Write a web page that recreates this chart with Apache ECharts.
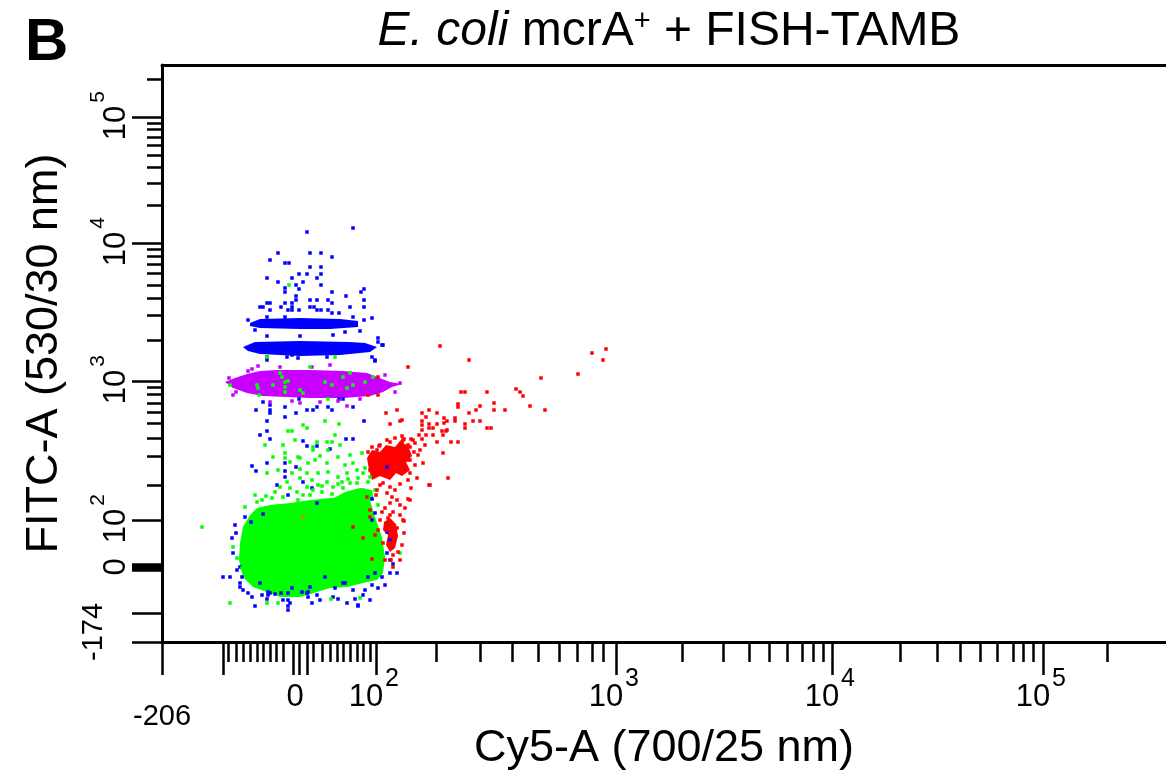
<!DOCTYPE html>
<html><head><meta charset="utf-8">
<script src="https://cdn.jsdelivr.net/npm/echarts@6/dist/echarts.min.js"></script>
<style>html,body{margin:0;padding:0;background:#fff}#c{width:1166px;height:778px}</style>
</head><body><div id="c"></div>
<script>
// All values are in display-channel units of the biexponential scales
// (x: Cy5-A channel 0..1004, y: FITC-A channel 0..577)

// ---- axis ticks & labels ----
const xTicksLong  = [0,61,131,137,145,214,454,670,881];
const xTicksShort = [66,74,81,88,95,101,108,114,121,151,160,168,175,181,188,195,201,208,274,318,350,376,397,415,430,441,520,561,587,607,625,640,651,661,738,775,798,818,835,851,861,871,945];
const xLabelPos   = [133,214,454,670,881];
const xLabelText  = ['0','10^2','10^3','10^4','10^5'];
const xMinLabelPos = [0];
const xMinLabelText = ['-206'];

const yTicksLong  = [0,29,72,74,76,78,122,261,399,525];
const yTicksShort = [157,186,204,219,230,239,248,255,302,327,344,357,369,378,386,393,437,459,475,487,497,505,513,519,563];
const yLabelPos   = [75,122,261,399,525];
const yLabelText  = ['0','10^2','10^3','10^4','10^5'];
const yMinLabelPos = [10];
const yMinLabelText = ['-174'];

// ---- dense populations (outlines) ----
const greenBlob = [[78,99],[81,115],[88,127],[95,134],[108,137],[128,139],[148,142],[168,144],[188,145],[201,149],[208,142],[213,125],[220,105],[223,85],[221,69],[215,62],[201,59],[185,55],[168,54],[155,50],[138,45],[118,45],[105,50],[91,55],[81,65],[77,82]];
const greenDense2 = [[168,142],[183,150],[198,154],[210,152],[212,142]];
const magentaBand = [[63,260],[73,264],[85,268],[98,271],[115,272],[148,272],[181,271],[205,269],[215,265],[228,260],[240,258],[230,255],[221,250],[208,246],[181,244],[148,244],[125,245],[101,246],[85,249],[71,254]];
const blueBand1 = [[81,295],[93,300],[138,301],[188,300],[203,299],[215,295],[208,290],[178,287],[138,286],[98,288],[86,291]];
const blueBand2 = [[88,319],[98,323],[138,324],[178,323],[196,321],[196,315],[168,313],[138,313],[98,314],[88,316]];
const redCore1 = [[205,184],[210,192],[218,190],[224,197],[233,195],[238,201],[246,196],[250,186],[244,180],[248,172],[240,166],[234,169],[228,162],[218,166],[210,162],[207,172]];
const redCore2 = [[222,120],[228,124],[234,118],[236,106],[233,94],[228,90],[224,97],[226,107],[221,112]];

// ---- individual events ----
const bluePts = [[145,410],[191,414],[116,389],[148,389],[159,389],[170,385],[108,382],[123,379],[127,379],[148,375],[159,375],[137,368],[145,368],[159,368],[105,364],[130,364],[155,364],[116,360],[141,360],[159,357],[123,354],[123,350],[134,357],[137,353],[202,353],[170,350],[199,350],[184,346],[134,346],[134,342],[148,342],[155,342],[166,342],[202,342],[105,339],[108,339],[123,339],[130,339],[130,335],[130,332],[170,339],[119,335],[98,335],[101,335],[148,335],[152,335],[188,335],[202,335],[108,332],[126,332],[137,332],[155,332],[159,332],[166,332],[170,329],[177,329],[123,325],[105,325],[191,325],[202,322],[210,324],[86,322],[93,312],[183,310],[198,311],[105,306],[138,306],[171,307],
[105,285],[125,285],[136,284],[165,285],[213,282],[220,297],[216,304],[216,300],[221,297],[210,285],[213,281],[105,282],[130,287],
[101,240],[108,237],[108,232],[108,229],[123,235],[94,232],[137,243],[145,232],[151,232],[155,235],[166,235],[170,232],[177,243],[181,243],[191,235],[123,225],[134,229],[105,221],[202,221],[105,211],[98,207],[108,203],[141,201],[155,196],[184,203],[191,203],[145,196],[168,193],[90,176],[94,171],[105,179],[123,179],[134,175],[123,171],[123,165],[115,157],[141,160],[126,147],[150,154],[155,139],[225,175],[210,143],
[213,129],[210,122],[225,110],[228,102],[225,89],[228,82],[231,78],[235,69],[228,69],[220,65],[213,69],[206,65],[210,57],[216,54],[223,57],[201,47],[193,43],[196,36],[185,39],[176,43],[173,54],[183,59],[163,65],[148,55],[155,47],[145,49],[140,50],[130,54],[119,49],[113,48],[108,49],[100,47],[90,45],[93,36],[105,43],[121,42],[128,39],[150,39],[78,55],[80,65],[75,72],[68,65],[61,65],[71,89],[70,104],[74,109],[73,117],[83,125],[101,128],[89,120],[78,75],[98,59],[106,50],[106,47],[126,49],[126,42],[126,36],[126,32],[146,50],[146,45],[181,59],[191,52],[196,37],[208,42],[78,59],[81,52],[86,49],[158,42],[171,45],[203,52]];

const greenPts = [[166,243],[141,217],[145,214],[163,221],[177,218],[126,211],[130,211],[173,207],[155,200],[151,195],[170,200],[166,192],[123,189],[136,185],[158,186],[176,185],[200,189],[111,185],[165,200],[151,192],[123,184],[138,184],[146,179],[165,179],[191,179],[116,172],[138,173],[145,169],[156,169],[166,170],[176,165],[185,169],[195,172],[201,169],[105,169],[118,155],[128,154],[141,147],[151,152],[160,150],[171,155],[181,154],[188,159],[195,159],[201,152],[165,160],[180,160],[130,169],[110,144],[95,140],[83,135],[40,115],[68,39],[116,39],[105,39],[238,89],[169,43],[198,44],[71,95],[75,84],[80,74],
[93,147],[100,142],[121,145],[136,142],[148,147],[156,157],[208,165],[213,152],[216,137],[203,174],[138,164],[150,162],[128,180],[153,182],[183,177],[188,187],[178,197],[121,197],[133,202],[103,197],
[176,158],[186,163],[196,164],[206,160],[160,156],[170,148],[145,155],[135,150],[125,160],[113,150],[104,146],[193,146],[184,146],
[105,285],[173,285],[127,357],
[95,257],[96,254],[111,257],[120,265],[123,260],[123,255],[123,250],[126,261],[138,252],[141,249],[163,260],[170,257],[181,265],[188,269],[185,254],[191,257],[203,260],[211,265],[68,257],[118,269],[97,247],[148,275]];

const magentaPts = [[71,247],[233,250],[238,259],[185,236],[86,271],[118,275],[67,264],[74,250],[138,239],[158,240],[198,243],[108,240],[223,267],[96,276],[168,277],[130,241],[176,241],[150,275],[90,273]];

const redPts = [[278,296],[307,282],[246,275],[430,289],[444,293],[441,282],[416,268],[379,264],[299,250],[303,250],[325,250],[354,253],[358,250],[361,246],[332,239],[296,238],[296,235],[318,236],[314,232],[307,229],[332,232],[343,232],[368,236],[383,232],[224,229],[235,232],[238,221],[228,218],[260,229],[267,232],[275,229],[264,225],[260,221],[260,217],[260,212],[267,218],[267,214],[275,218],[282,224],[282,219],[285,221],[293,224],[293,221],[303,218],[303,214],[311,221],[318,221],[325,214],[329,214],[280,211],[284,211],[257,207],[264,207],[271,207],[260,203],[275,200],[289,200],[296,200],[217,196],[228,200],[242,203],[249,203],[233,193],[236,193],[246,197],[246,190],[246,184],[240,222],[271,214],[285,212],[281,207],[240,200],[251,202],[258,192],[281,189],[215,192],[220,189],[225,179],[245,182],[261,179],[268,157],[248,142],[243,134],[228,139],[228,127],[218,122],[225,112],[231,107],[235,114],[228,99],[231,87],[231,75],[221,99],[241,122],[208,132],[205,145],[215,152],[221,159],[208,172],[211,182],[231,169],[238,172],[248,169],[255,164],[228,155],[225,149],[235,142],[223,134],[228,119],[233,105],[286,164],[267,157],[242,121],[246,143],[249,154],[240,97],[238,82],
[206,190],[210,195],[218,197],[225,202],[233,204],[240,206],[248,195],[252,190],[248,182],[242,172],[246,162],[238,158],[233,152],[218,157],[214,147],[230,145],[238,137],[220,130],[231,130],[226,124],[238,127],[216,112],[229,82],[223,82],[236,90],[242,109],[253,177],[256,187],[263,197],[253,199],[233,182],[218,172],
[191,115],[201,104],[210,83],[213,107],[208,125],[216,265],[206,247],[216,247],[241,202]];
const orangePts = [[141,125]];

// ---- chart ----
const FONT = "'Liberation Sans',Arial,sans-serif";
const BASE_SIZE = 31, XEXP_SIZE = 25, YEXP_SIZE = 21;
const hasExp = t => t.indexOf('^') >= 0;
// base "10" sits left of the tick, exponent right/up of it
const xBasePos = xLabelPos.map((v, i) => hasExp(xLabelText[i]) ? v - 10 : v);
const xBaseText = xLabelText.map(t => t.split('^')[0]);
const xExpPos = xLabelPos.filter((v, i) => hasExp(xLabelText[i])).map(v => v + 16);
const xExpText = xLabelText.filter(hasExp).map(t => t.split('^')[1]);
const yBasePos = yLabelPos.map((v, i) => hasExp(yLabelText[i]) ? v - 6 : v);
const yBaseText = yLabelText.map(t => t.split('^')[0]);
const yExpPos = yLabelPos.filter((v, i) => hasExp(yLabelText[i])).map(v => v + 20);
const yExpText = yLabelText.filter(hasExp).map(t => t.split('^')[1]);
function lookup(pos, text) { return v => { const i = pos.indexOf(v); return i < 0 ? '' : text[i]; }; }

const AX = {type: 'value', splitLine: {show: false}};
const LINE = {show: true, lineStyle: {color: '#000', width: 3}};
const TICKSTYLE = {color: '#000', width: 2.5};
function labelAxis(isX, pos, text, margin, size, rotate) {
  return Object.assign({}, AX, {min: 0, max: isX ? 1004 : 577, position: isX ? 'bottom' : 'left',
    axisLine: {show: false}, axisTick: {show: false},
    axisLabel: {show: true, customValues: pos, margin: margin, formatter: lookup(pos, text),
      fontFamily: FONT, fontSize: size, color: '#000', rotate: rotate || 0}});
}

function poly(pts, color) {
  return {type: 'custom', xAxisIndex: 0, yAxisIndex: 0, silent: true,
    data: [pts[0]],
    renderItem: (p, api) => ({type: 'polygon', shape: {points: pts.map(q => api.coord(q))}, style: {fill: color}})};
}
function dots(pts, color, size) {
  return {type: 'scatter', xAxisIndex: 0, yAxisIndex: 0, silent: true, symbol: 'rect',
    symbolSize: size || 3.5, data: pts, itemStyle: {color: color, opacity: 1}};
}

const GREEN = '#00ff00', BLUE = '#0000ff', MAG = '#c800ff', RED = '#ff0000';

const chart = echarts.init(document.getElementById('c'), null, {renderer: 'canvas'});
chart.setOption({
  animation: false,
  backgroundColor: '#fff',
  title: [
    {text: '{i|E. coli}{n| mcrA}{s|+}{n| + FISH-TAMB}', left: 664, top: 1, textAlign: 'center',
     textStyle: {fontWeight: 'normal', rich: {
       i: {fontFamily: FONT, fontStyle: 'italic', fontWeight: 'normal', fontSize: 48, color: '#000', lineHeight: 52},
       n: {fontFamily: FONT, fontWeight: 'normal', fontSize: 48, color: '#000', lineHeight: 52},
       s: {fontFamily: FONT, fontWeight: 'normal', fontSize: 29, color: '#000', lineHeight: 52, padding: [0,0,20,0]}
     }}},
    {text: 'B', left: 20, top: 8, textStyle: {fontFamily: FONT, fontWeight: 'bold', fontSize: 60, color: '#000'}}
  ],
  grid: {left: 162, top: 65, right: 0, bottom: 136, containLabel: false},
  xAxis: [
    Object.assign({}, AX, {min: 0, max: 1004, position: 'bottom', axisLine: LINE,
      axisTick: {show: true, customValues: xTicksShort, length: 20, lineStyle: TICKSTYLE},
      axisLabel: {show: false},
      name: 'Cy5-A (700/25 nm)', nameLocation: 'middle', nameGap: 84,
      nameTextStyle: {fontFamily: FONT, fontSize: 45, color: '#000'}}),
    Object.assign({}, AX, {min: 0, max: 1004, position: 'bottom', axisLine: {show: false},
      axisTick: {show: true, customValues: xTicksLong, length: 33, lineStyle: TICKSTYLE},
      axisLabel: {show: false}}),
    labelAxis(true, xBasePos, xBaseText, 40, BASE_SIZE),
    labelAxis(true, xExpPos, xExpText, 25, XEXP_SIZE),
    labelAxis(true, xMinLabelPos, xMinLabelText, 60, BASE_SIZE - 2),
    Object.assign({}, AX, {min: 0, max: 1004, position: 'top', axisLine: LINE, axisTick: {show: false}, axisLabel: {show: false}})
  ],
  yAxis: [
    Object.assign({}, AX, {min: 0, max: 577, position: 'left', axisLine: LINE,
      axisTick: {show: true, customValues: yTicksShort, length: 15, lineStyle: TICKSTYLE},
      axisLabel: {show: false},
      name: 'FITC-A (530/30 nm)', nameLocation: 'middle', nameGap: 95,
      nameTextStyle: {fontFamily: FONT, fontSize: 45, color: '#000'}}),
    Object.assign({}, AX, {min: 0, max: 577, position: 'left', axisLine: {show: false},
      axisTick: {show: true, customValues: yTicksLong, length: 30, lineStyle: TICKSTYLE},
      axisLabel: {show: false}}),
    labelAxis(false, yBasePos, yBaseText, 30, BASE_SIZE, 90),
    labelAxis(false, yExpPos, yExpText, 53, YEXP_SIZE, 90),
    labelAxis(false, yMinLabelPos, yMinLabelText, 54, BASE_SIZE - 2, 90)
  ],
  series: [
    poly(blueBand1, BLUE),
    poly(blueBand2, BLUE),
    dots(bluePts, BLUE),
    poly(redCore1, RED),
    poly(redCore2, RED),
    poly(greenBlob, GREEN),
    poly(greenDense2, GREEN),
    poly(magentaBand, MAG),
    dots(magentaPts, MAG),
    dots(greenPts, GREEN),
    dots(redPts, RED),
    dots(orangePts, '#e08000')
  ]
});
</script>
</body></html>
